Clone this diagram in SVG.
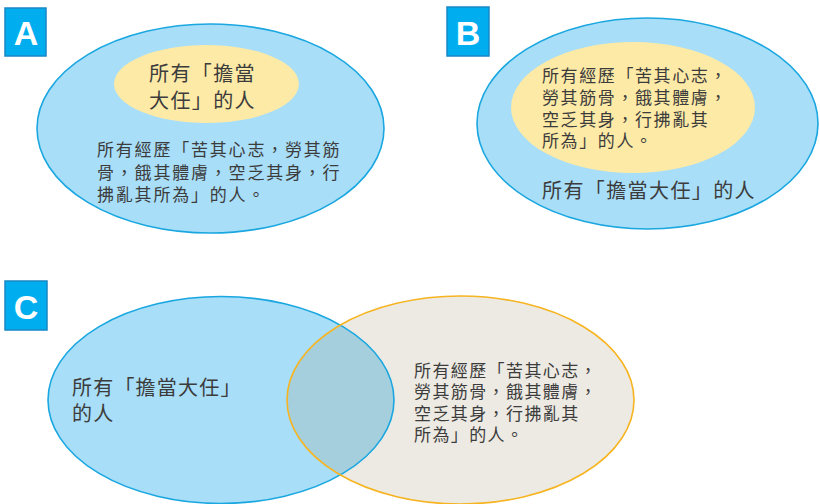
<svg xmlns="http://www.w3.org/2000/svg" width="820" height="504" viewBox="0 0 820 504">
<style>
.lbl{fill:#00AEEF;stroke:#1A86C4;stroke-width:1.5}
.lt{fill:#fff;font-family:"Liberation Sans",Arial,sans-serif;font-weight:bold;font-size:34px;text-anchor:middle}
.blue{fill:#A8DEF8;stroke:#1AA7E0;stroke-width:1.6}
.yel{fill:#FCEAA6}
.beige{fill:#EDEAE3;stroke:#F7B421;stroke-width:1.6}
.t{fill:#3C3C3C;font-family:"Noto Sans CJK TC","Noto Sans CJK SC",sans-serif}
.s17{font-size:17px;letter-spacing:1.6px}
.s20{font-size:20px;letter-spacing:1.4px}
</style>
<defs>
<clipPath id="clipR"><ellipse cx="460.5" cy="400" rx="173.5" ry="104"/></clipPath>
</defs>

<g id="panelA">
  <g id="labelA"><rect class="lbl" x="5" y="8" width="41" height="48"/><text class="lt" x="26" y="45">A</text></g>
  <g id="A-outer">
    <ellipse class="blue" cx="210.5" cy="128.5" rx="173.5" ry="104.5"/>
    <text class="t s17" x="97" style="letter-spacing:1.8px"><tspan x="97" y="156">所有經歷「苦其心志，勞其筋</tspan><tspan x="97" y="179">骨，餓其體膚，空乏其身，行</tspan><tspan x="97" y="201">拂亂其所為」的人。</tspan></text>
  </g>
  <g id="A-inner">
    <ellipse class="yel" cx="206.5" cy="84" rx="92.5" ry="39"/>
    <text class="t s20" x="149"><tspan x="149" y="81">所有「擔當</tspan><tspan x="149" y="108">大任」的人</tspan></text>
  </g>
</g>

<g id="panelB">
  <g id="labelB"><rect class="lbl" x="447" y="7" width="42" height="49"/><text class="lt" x="468" y="45">B</text></g>
  <g id="B-outer">
    <ellipse class="blue" cx="647.5" cy="123.5" rx="170.5" ry="105.5"/>
    <text class="t s20" x="542" y="198">所有「擔當大任」的人</text>
  </g>
  <g id="B-inner">
    <ellipse class="yel" cx="633" cy="107.5" rx="122" ry="65.5"/>
    <text class="t s17" x="542"><tspan x="542" y="82">所有經歷「苦其心志，</tspan><tspan x="542" y="103.5">勞其筋骨，餓其體膚，</tspan><tspan x="542" y="125.5">空乏其身，行拂亂其</tspan><tspan x="542" y="147">所為」的人。</tspan></text>
  </g>
</g>

<g id="panelC">
  <g id="labelC"><rect class="lbl" x="5" y="281" width="42" height="49"/><text class="lt" x="26" y="319">C</text></g>
  <g id="C-left">
    <ellipse class="blue" cx="221" cy="400" rx="173" ry="103.5" style="stroke:none"/>
  </g>
  <g id="C-right">
    <ellipse class="beige" cx="460.5" cy="400" rx="173.5" ry="104" style="stroke:none"/>
  </g>
  <g id="C-overlap">
    <ellipse cx="221" cy="400" rx="173" ry="103.5" fill="#A5CFDD" clip-path="url(#clipR)"/>
  </g>
  <ellipse cx="221" cy="400" rx="173" ry="103.5" fill="none" stroke="#1AA7E0" stroke-width="1.6"/>
  <ellipse cx="460.5" cy="400" rx="173.5" ry="104" fill="none" stroke="#F7B421" stroke-width="1.6"/>
  <text class="t s20" x="72" style="letter-spacing:1.2px"><tspan x="72" y="395">所有「擔當大任」</tspan><tspan x="72" y="421">的人</tspan></text>
  <text class="t s17" x="414" style="letter-spacing:1.4px"><tspan x="414" y="376.5">所有經歷「苦其心志，</tspan><tspan x="414" y="397.5">勞其筋骨，餓其體膚，</tspan><tspan x="414" y="419.5">空乏其身，行拂亂其</tspan><tspan x="414" y="441">所為」的人。</tspan></text>
</g>
</svg>
